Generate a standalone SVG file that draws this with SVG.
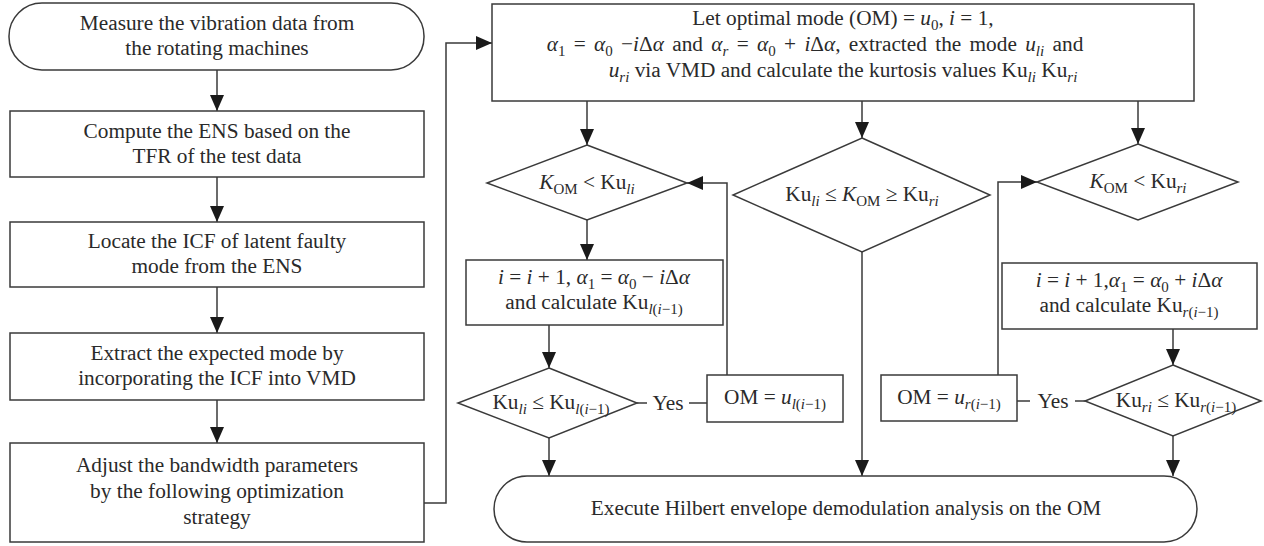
<svg xmlns="http://www.w3.org/2000/svg" width="1264" height="546" viewBox="0 0 1264 546">
  <style>
    .shape { fill: #ffffff; stroke: #3a3a3a; stroke-width: 1.5; }
    .line { fill: none; stroke: #3a3a3a; stroke-width: 1.5; }
    .arrow { fill: none; stroke: #3a3a3a; stroke-width: 1.5; marker-end: url(#head); }
    text { font-family: 'Liberation Serif', 'DejaVu Serif', serif; font-size: 21.3px; fill: #2a2a2a; text-anchor: middle; }
    .it { font-style: italic; }
    .sub { font-size: 15px; baseline-shift: -5px; }
    .wide { word-spacing: 3px; }
  </style>
  <defs>
    <marker id="head" markerUnits="userSpaceOnUse" markerWidth="16" markerHeight="14" refX="16" refY="7" orient="auto">
      <path d="M0,0 L16,7 L0,14 z" fill="#1a1a1a"/>
    </marker>
  </defs>

  <!-- connectors -->
  <g id="connectors">
    <line class="arrow" x1="217" y1="70" x2="217" y2="111"/>
    <line class="arrow" x1="217" y1="177" x2="217" y2="222"/>
    <line class="arrow" x1="217" y1="287" x2="217" y2="333"/>
    <line class="arrow" x1="217" y1="400" x2="217" y2="443"/>
    <polyline class="arrow" points="424,503 446,503 446,43 492,43"/>
    <line class="arrow" x1="587" y1="101" x2="587" y2="145"/>
    <line class="arrow" x1="862" y1="101" x2="862" y2="138"/>
    <line class="arrow" x1="1138" y1="101" x2="1138" y2="144"/>
    <line class="arrow" x1="587" y1="220" x2="587" y2="260"/>
    <line class="arrow" x1="549" y1="325" x2="549" y2="368"/>
    <line class="arrow" x1="549" y1="438" x2="549" y2="476"/>
    <line class="arrow" x1="862" y1="252" x2="862" y2="476"/>
    <line class="arrow" x1="1173" y1="329" x2="1173" y2="365"/>
    <line class="arrow" x1="1173" y1="436" x2="1173" y2="476"/>
    <polyline class="arrow" points="727,375 727,183 687,183"/>
    <polyline class="arrow" points="998,375 998,182 1037,182"/>
    <line class="line" x1="637" y1="403" x2="647" y2="403"/>
    <line class="line" x1="689" y1="403" x2="707" y2="403"/>
    <line class="line" x1="1017" y1="401" x2="1030" y2="401"/>
    <line class="line" x1="1075" y1="401" x2="1085" y2="401"/>
    <text x="668" y="410">Yes</text>
    <text x="1053" y="408">Yes</text>
  </g>

  <!-- left column -->
  <g id="start">
    <rect class="shape" x="9" y="3" width="415" height="67" rx="33" ry="33"/>
    <text x="217" y="30">Measure the vibration data from</text>
    <text x="217" y="55">the rotating machines</text>
  </g>
  <g id="compute-ens">
    <rect class="shape" x="10" y="111" width="414" height="66"/>
    <text x="217" y="138">Compute the ENS based on the</text>
    <text x="217" y="163">TFR of the test data</text>
  </g>
  <g id="locate-icf">
    <rect class="shape" x="10" y="222" width="414" height="65"/>
    <text x="217" y="248">Locate the ICF of latent faulty</text>
    <text x="217" y="273">mode from the ENS</text>
  </g>
  <g id="extract-mode">
    <rect class="shape" x="10" y="333" width="414" height="67"/>
    <text x="217" y="360">Extract the expected mode by</text>
    <text x="217" y="385">incorporating the ICF into VMD</text>
  </g>
  <g id="adjust-bandwidth">
    <rect class="shape" x="10" y="443" width="414" height="99"/>
    <text x="217" y="472">Adjust the bandwidth parameters</text>
    <text x="217" y="498">by the following optimization</text>
    <text x="217" y="524">strategy</text>
  </g>

  <!-- optimization strategy -->
  <g id="init">
    <rect class="shape" x="492" y="4" width="702" height="97"/>
    <text x="843" y="25">Let optimal mode (OM) = <tspan class="it">u</tspan><tspan class="sub">0</tspan>, <tspan class="it">i</tspan> = 1,</text>
    <text class="wide" x="815" y="51"><tspan class="it">α</tspan><tspan class="sub">1</tspan> = <tspan class="it">α</tspan><tspan class="sub">0</tspan> −<tspan class="it">i</tspan>Δ<tspan class="it">α</tspan> and <tspan class="it">α</tspan><tspan class="sub it">r</tspan> = <tspan class="it">α</tspan><tspan class="sub">0</tspan> + <tspan class="it">i</tspan>Δ<tspan class="it">α</tspan>, extracted the mode <tspan class="it">u</tspan><tspan class="sub it">li</tspan> and</text>
    <text x="843" y="77"><tspan class="it">u</tspan><tspan class="sub it">ri</tspan> via VMD and calculate the kurtosis values Ku<tspan class="sub it">li</tspan> Ku<tspan class="sub it">ri</tspan></text>
  </g>

  <g id="cond-left">
    <polygon class="shape" points="587,145 687,183 587,220 487,183"/>
    <text x="587" y="189"><tspan class="it">K</tspan><tspan class="sub">OM</tspan> &lt; Ku<tspan class="sub it">li</tspan></text>
  </g>
  <g id="cond-mid">
    <polygon class="shape" points="862,138 990,195 862,252 733,195"/>
    <text x="862" y="201">Ku<tspan class="sub it">li</tspan> ≤ <tspan class="it">K</tspan><tspan class="sub">OM</tspan> ≥ Ku<tspan class="sub it">ri</tspan></text>
  </g>
  <g id="cond-right">
    <polygon class="shape" points="1138,144 1238,182 1138,220 1037,182"/>
    <text x="1138" y="188"><tspan class="it">K</tspan><tspan class="sub">OM</tspan> &lt; Ku<tspan class="sub it">ri</tspan></text>
  </g>

  <g id="step-left">
    <rect class="shape" x="466" y="260" width="257" height="65"/>
    <text x="594" y="284"><tspan class="it">i</tspan> = <tspan class="it">i</tspan> + 1, <tspan class="it">α</tspan><tspan class="sub">1</tspan> = <tspan class="it">α</tspan><tspan class="sub">0</tspan> − <tspan class="it">i</tspan>Δ<tspan class="it">α</tspan></text>
    <text x="594" y="309">and calculate Ku<tspan class="sub"><tspan class="it">l</tspan>(<tspan class="it">i</tspan>−1)</tspan></text>
  </g>
  <g id="step-right">
    <rect class="shape" x="1002" y="263" width="255" height="66"/>
    <text x="1129" y="287"><tspan class="it">i</tspan> = <tspan class="it">i</tspan> + 1,<tspan class="it">α</tspan><tspan class="sub">1</tspan> = <tspan class="it">α</tspan><tspan class="sub">0</tspan> + <tspan class="it">i</tspan>Δ<tspan class="it">α</tspan></text>
    <text x="1129" y="312">and calculate Ku<tspan class="sub"><tspan class="it">r</tspan>(<tspan class="it">i</tspan>−1)</tspan></text>
  </g>

  <g id="check-left">
    <polygon class="shape" points="549,368 637,403 549,438 458,403"/>
    <text x="551" y="409">Ku<tspan class="sub it">li</tspan> ≤ Ku<tspan class="sub"><tspan class="it">l</tspan>(<tspan class="it">i</tspan>−1)</tspan></text>
  </g>
  <g id="check-right">
    <polygon class="shape" points="1173,365 1261,401 1173,436 1085,401"/>
    <text x="1176" y="407">Ku<tspan class="sub it">ri</tspan> ≤ Ku<tspan class="sub"><tspan class="it">r</tspan>(<tspan class="it">i</tspan>−1)</tspan></text>
  </g>

  <g id="om-left">
    <rect class="shape" x="707" y="375" width="136" height="47"/>
    <text x="775" y="404">OM = <tspan class="it">u</tspan><tspan class="sub"><tspan class="it">l</tspan>(<tspan class="it">i</tspan>−1)</tspan></text>
  </g>
  <g id="om-right">
    <rect class="shape" x="881" y="375" width="136" height="46"/>
    <text x="949" y="404">OM = <tspan class="it">u</tspan><tspan class="sub"><tspan class="it">r</tspan>(<tspan class="it">i</tspan>−1)</tspan></text>
  </g>

  <g id="end">
    <rect class="shape" x="494" y="476" width="703" height="66" rx="33" ry="33"/>
    <text x="846" y="515">Execute Hilbert envelope demodulation analysis on the OM</text>
  </g>
</svg>
